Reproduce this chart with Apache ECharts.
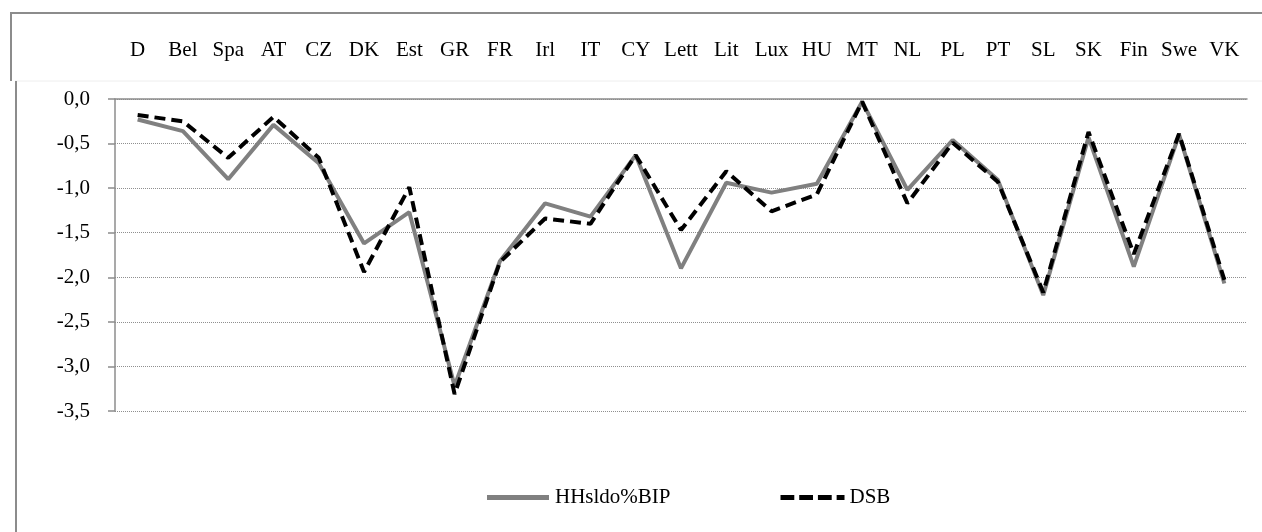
<!DOCTYPE html>
<html>
<head>
<meta charset="utf-8">
<script src="https://cdn.jsdelivr.net/npm/echarts@6/dist/echarts.min.js"></script>
<style>
  html, body { margin: 0; padding: 0; background: #fff; }
  #myChart { width: 1262px; height: 532px; }
</style>
</head>
<body>
<div id="myChart"></div>
<script>
  // Länder (Kategorien)
  let laender = ['D', 'Bel', 'Spa', 'AT', 'CZ', 'DK', 'Est', 'GR', 'FR', 'Irl', 'IT', 'CY', 'Lett', 'Lit', 'Lux', 'HU', 'MT', 'NL', 'PL', 'PT', 'SL', 'SK', 'Fin', 'Swe', 'VK'];
  // Haushaltssaldo in % des BIP
  let hhsaldo = [-0.23, -0.36, -0.90, -0.29, -0.72, -1.62, -1.27, -3.22, -1.82, -1.17, -1.32, -0.63, -1.90, -0.94, -1.05, -0.95, -0.03, -1.02, -0.46, -0.91, -2.20, -0.43, -1.88, -0.40, -2.07];
  // DSB
  let dsb = [-0.18, -0.25, -0.66, -0.20, -0.66, -1.94, -0.99, -3.31, -1.83, -1.34, -1.40, -0.63, -1.47, -0.81, -1.26, -1.07, -0.03, -1.17, -0.49, -0.93, -2.17, -0.37, -1.74, -0.39, -2.03];
  let serienNamen = ['HHsldo%BIP', 'DSB'];

  let schrift = '"Liberation Serif", "DejaVu Serif", serif';
  let myChart = echarts.init(document.getElementById('myChart'));

  // Legendensymbole: durchgezogen bzw. gestrichelt
  let iconVoll = 'path://M0,0H62V5H0Z';
  let iconStrich = 'path://M1,0H15V5H1Z M20,0H34V5H20Z M39,0H53V5H39Z M58,0H66V5H58Z';

  let options = {
    animation: false,
    backgroundColor: '#fff',
    grid: { left: 115, right: 15, top: 99, bottom: 121 },
    legend: {
      left: 482,
      top: 482,
      itemWidth: 64,
      itemHeight: 5,
      itemGap: 110,
      data: [
        { name: serienNamen[0], icon: iconVoll, itemStyle: { color: '#808080' } },
        { name: serienNamen[1], icon: iconStrich, itemStyle: { color: '#000' } }
      ],
      textStyle: { fontFamily: schrift, fontSize: 21, color: '#000' }
    },
    graphic: [
      { type: 'line', shape: { x1: 10, y1: 13, x2: 1262, y2: 13 }, style: { stroke: '#8c8c8c', lineWidth: 2 } },
      { type: 'line', shape: { x1: 11, y1: 12, x2: 11, y2: 81 }, style: { stroke: '#8c8c8c', lineWidth: 2 } },
      { type: 'line', shape: { x1: 15, y1: 81, x2: 1262, y2: 81 }, style: { stroke: '#eeeeee', lineWidth: 1 } },
      { type: 'line', shape: { x1: 16, y1: 81, x2: 16, y2: 532 }, style: { stroke: '#8c8c8c', lineWidth: 2 } }
    ],
    xAxis: [{
      type: 'category',
      position: 'top',
      data: laender,
      axisLine: { lineStyle: { color: '#8c8c8c', width: 1.5 } },
      axisTick: { length: 7, lineStyle: { color: '#8c8c8c', width: 1.5 } },
      axisLabel: { margin: 38, fontFamily: schrift, fontSize: 21, color: '#000', interval: 0 }
    }, {
      type: 'category',
      position: 'top',
      data: laender,
      axisLine: { show: false },
      axisTick: { inside: true, length: 7, lineStyle: { color: '#8c8c8c', width: 1.5 } },
      axisLabel: { show: false }
    }],
    yAxis: {
      type: 'value',
      min: -3.5,
      max: 0,
      interval: 0.5,
      axisLine: { show: true, lineStyle: { color: '#8c8c8c', width: 1.5 } },
      axisTick: { show: true, length: 7, lineStyle: { color: '#8c8c8c', width: 1.5 } },
      splitLine: { lineStyle: { color: '#8f8f8f', width: 1, type: [1, 1] } },
      axisLabel: {
        margin: 25,
        fontFamily: schrift,
        fontSize: 21,
        color: '#000',
        formatter: function (v) { return v.toFixed(1).replace('.', ','); }
      }
    },
    series: [{
      name: serienNamen[0],
      type: 'line',
      symbol: 'none',
      data: hhsaldo,
      itemStyle: { color: '#808080' },
      lineStyle: { color: '#808080', width: 4 }
    }, {
      name: serienNamen[1],
      type: 'line',
      symbol: 'none',
      data: dsb,
      itemStyle: { color: '#000' },
      lineStyle: { color: '#000', width: 4, type: [11, 6] }
    }]
  };
  myChart.setOption(options);
</script>
</body>
</html>
